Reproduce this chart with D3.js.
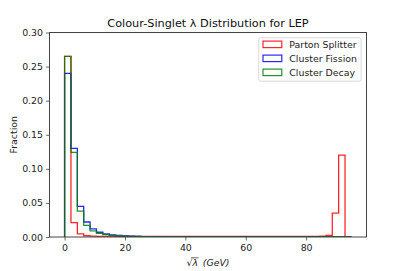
<!DOCTYPE html>
<html>
<head>
<meta charset="utf-8">
<script src="https://cdn.jsdelivr.net/npm/d3@7"></script>
<style>
  html, body { margin: 0; padding: 0; background: #fff; }
  svg { display: block; font-family: "DejaVu Sans", sans-serif; }
</style>
</head>
<body>
<svg id="chart" width="407" height="271"></svg>
<script>
// ---- data ----
const binStart = 0;
const binEnd = 95;
const nBins = 45;
const seriesNames = ["Parton Splitter", "Cluster Fission", "Cluster Decay"];
const seriesColors = ["#ff0000", "#0000ff", "#008000"];

const partonSplitter = [
  0.265, 0.021, 0.0045, 0.0018, 0.0012, 0.0010, 0.0009, 0.0009, 0.0009, 0.0009,
  0.0009, 0.0009, 0.0009, 0.0009, 0.0009, 0.0009, 0.0009, 0.0009, 0.0008, 0.0008,
  0.0009, 0.0009, 0.0009, 0.0009, 0.0009, 0.0009, 0.0008, 0.0008, 0.0008, 0.0008,
  0.0008, 0.0008, 0.0008, 0.0008, 0.0008, 0.0008, 0.0008, 0.0008, 0.0008, 0.0010,
  0.0012, 0.0025, 0.035, 0.120, 0.0
];
const clusterFission = [
  0.240, 0.130, 0.045, 0.0220, 0.0120, 0.0070, 0.0046, 0.0032, 0.0022, 0.0015,
  0.0011, 0.0008, 0.0006, 0.0005, 0.0004, 0.0003, 0.0003, 0.0002, 0.0002, 0.0002,
  0.0001, 0.0001, 0.0001, 0.0001, 0.0001, 0.0001, 0.0001, 0.0001, 0.0001, 0.0001,
  0.0001, 0.0001, 0.0001, 0.0001, 0.0001, 0.0001, 0.0001, 0.0001, 0.0001, 0.0001,
  0.0001, 0.0002, 0.0004, 0.0005, 0.0
];
const clusterDecay = [
  0.265, 0.124, 0.038, 0.0170, 0.0090, 0.0055, 0.0036, 0.0025, 0.0018, 0.0013,
  0.0009, 0.0007, 0.0005, 0.0004, 0.0003, 0.0003, 0.0002, 0.0002, 0.0002, 0.0001,
  0.0001, 0.0001, 0.0001, 0.0001, 0.0001, 0.0001, 0.0001, 0.0001, 0.0001, 0.0001,
  0.0001, 0.0001, 0.0001, 0.0001, 0.0001, 0.0001, 0.0001, 0.0001, 0.0001, 0.0001,
  0.0001, 0.0002, 0.0004, 0.0005, 0.0
];
const xTicks = [0, 20, 40, 60, 80];
const yTicks = [0, 0.05, 0.10, 0.15, 0.20, 0.25, 0.30];
const titleText = "Colour-Singlet λ Distribution for LEP";
const yLabelText = "Fraction";

// ---- layout ----
const plotL = 49.5, plotR = 366.5, plotT = 32.5, plotB = 237;
const fs = 9.4;

const svg = d3.select("#chart");
const x = d3.scaleLinear().domain([-5, 100]).range([plotL, plotR]);
const y = d3.scaleLinear().domain([0, 0.30]).range([plotB, plotT]);

const binW = (binEnd - binStart) / nBins;
const edges = d3.range(nBins + 1).map(i => binStart + i * binW);

svg.append("clipPath").attr("id", "clip")
  .append("rect").attr("x", plotL).attr("y", plotT).attr("width", plotR - plotL).attr("height", plotB - plotT);

const line = d3.line().x(d => x(d[0])).y(d => y(d[1]));
function stepPoints(vals) {
  const pts = [[edges[0], 0]];
  vals.forEach((v, i) => { pts.push([edges[i], v]); pts.push([edges[i + 1], v]); });
  pts.push([edges[nBins], 0]);
  return pts;
}

const allSeries = [partonSplitter, clusterFission, clusterDecay];
const g = svg.append("g").attr("clip-path", "url(#clip)");
allSeries.forEach((vals, i) => {
  g.append("path")
    .attr("d", line(stepPoints(vals)))
    .attr("fill", "none")
    .attr("stroke", seriesColors[i])
    .attr("stroke-width", 1.3)
    .attr("stroke-opacity", 0.85)
    .attr("stroke-linejoin", "miter");
});

// ---- axes ----
const axisColor = "#444";
const xAxis = svg.append("g").attr("transform", `translate(0,${plotB})`)
  .call(d3.axisBottom(x).tickValues(xTicks).tickFormat(d3.format("d")).tickSize(3.5).tickPadding(3.5));
const yAxis = svg.append("g").attr("transform", `translate(${plotL},0)`)
  .call(d3.axisLeft(y).tickValues(yTicks).tickFormat(d3.format(".2f")).tickSize(3.5).tickPadding(3));
[xAxis, yAxis].forEach(a => {
  a.select(".domain").remove();
  a.selectAll(".tick line").attr("stroke", axisColor).attr("stroke-width", 0.8);
  a.selectAll(".tick text").attr("fill", "#222").style("font-size", fs + "px").style("font-family", "DejaVu Sans");
});

svg.append("rect")
  .attr("x", plotL).attr("y", plotT).attr("width", plotR - plotL).attr("height", plotB - plotT)
  .attr("fill", "none").attr("stroke", axisColor).attr("stroke-width", 1);

// ---- title ----
svg.append("text")
  .attr("x", (plotL + plotR) / 2).attr("y", 26.5)
  .attr("text-anchor", "middle")
  .style("font-size", (fs * 1.2) + "px")
  .attr("fill", "#111")
  .text(titleText);

// ---- y label ----
svg.append("text")
  .attr("transform", `translate(17.3,${(plotT + plotB) / 2}) rotate(-90)`)
  .attr("text-anchor", "middle")
  .style("font-size", fs + "px")
  .attr("fill", "#222")
  .text(yLabelText);

// ---- x label: sqrt(lambda) (GeV) ----
const xl = svg.append("text")
  .attr("x", (plotL + plotR) / 2).attr("y", 266)
  .attr("text-anchor", "middle")
  .style("font-size", fs + "px")
  .attr("fill", "#222");
xl.append("tspan").text("√");
const lam = xl.append("tspan").style("font-style", "italic").text("λ");
xl.append("tspan").text("\u2002");
xl.append("tspan").style("font-style", "italic").text("(GeV)");
// overline for the radical, derived from the lambda glyph's box
const lb = lam.node().getBBox();
svg.append("line")
  .attr("x1", lb.x - 0.3).attr("x2", lb.x + lb.width + 0.5)
  .attr("y1", lb.y + 0.8).attr("y2", lb.y + 0.8)
  .attr("stroke", "#222").attr("stroke-width", 0.7);

// ---- legend ----
const lgX = 258.7, lgY = 37.7, lgW = 102.5, lgH = 43.5;
const leg = svg.append("g");
leg.append("rect")
  .attr("x", lgX).attr("y", lgY).attr("width", lgW).attr("height", lgH)
  .attr("rx", 2).attr("fill", "#fff").attr("fill-opacity", 0.8)
  .attr("stroke", "#d0d0d0").attr("stroke-width", 0.8);
seriesNames.forEach((name, i) => {
  const cy = 44.3 + i * 14;
  leg.append("rect")
    .attr("x", lgX + 4.3).attr("y", cy - 3.2).attr("width", 18.8).attr("height", 6.5)
    .attr("fill", "none").attr("stroke", seriesColors[i]).attr("stroke-width", 1.2)
    .attr("stroke-opacity", 0.85);
  leg.append("text")
    .attr("x", lgX + 30.6).attr("y", cy).attr("dy", "0.36em")
    .style("font-size", fs + "px").attr("fill", "#222")
    .text(name);
});
</script>
</body>
</html>
